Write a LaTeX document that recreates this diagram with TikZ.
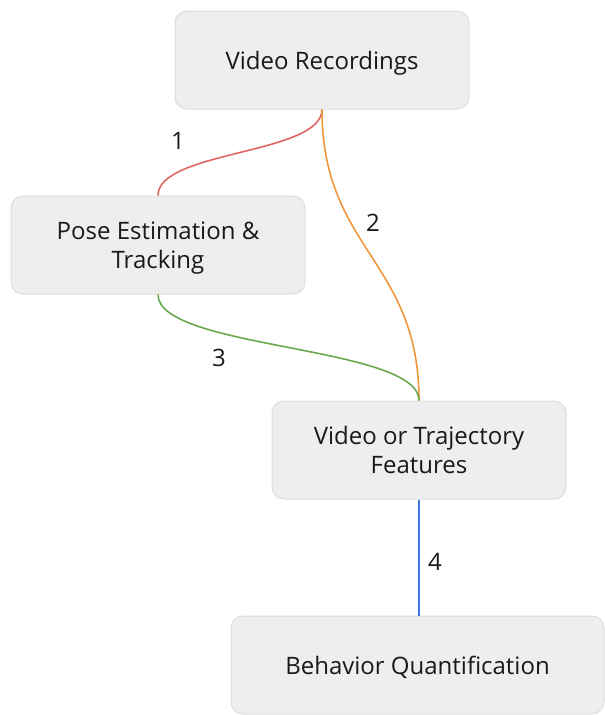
\documentclass[tikz,border=0pt]{standalone}
\usepackage{fontspec}
\setmainfont{Open Sans}
\definecolor{boxfill}{HTML}{EEEEEE}
\definecolor{boxline}{HTML}{DDDDDD}
\definecolor{cred}{HTML}{E06666}
\definecolor{corange}{HTML}{F0963C}
\definecolor{cgreen}{HTML}{6AA84F}
\definecolor{cblue}{HTML}{3C78D8}
\tikzset{
  stepbox/.style={draw=boxline, fill=boxfill, line width=1pt, rounded corners=12pt,
    minimum width=294pt, minimum height=98pt, align=center, text depth=0pt,
    font=\fontsize{24}{29.5}\selectfont, text=black!90, inner sep=0pt},
  conn/.style={line width=1.6pt},
  lbl/.style={font=\fontsize{24}{29.5}\selectfont, text=black!90, inner sep=0pt}
}
\begin{document}
\begin{tikzpicture}[x=1pt,y=-1pt]
\useasboundingbox (0,0) rectangle (605,715);
\node[stepbox] (vr) at (322,60) {Video Recordings};
\node[stepbox] (pe) at (158,245) {Pose Estimation \&\\Tracking};
\node[stepbox] (vf) at (419,450) {Video or Trajectory\\Features};
\node[stepbox, minimum width=373pt] (bq) at (417.5,665) {Behavior Quantification};
\draw[conn, cred] (vr.south) .. controls +(0,45) and +(0,-45) .. (pe.north);
\draw[conn, corange] (vr.south) .. controls +(0,140) and +(0,-140) .. (vf.north);
\draw[conn, cgreen] (pe.south) .. controls +(0,55) and +(0,-55) .. (vf.north);
\draw[conn, cblue] (vf.south) -- (vf.south |- bq.north);
\node[lbl] (l1) at (178,141) {1};
\node[lbl] (l2) at (373,223) {2};
\node[lbl] (l3) at (219,358) {3};
\node[lbl] (l4) at (435,562) {4};
\end{tikzpicture}
\end{document}
